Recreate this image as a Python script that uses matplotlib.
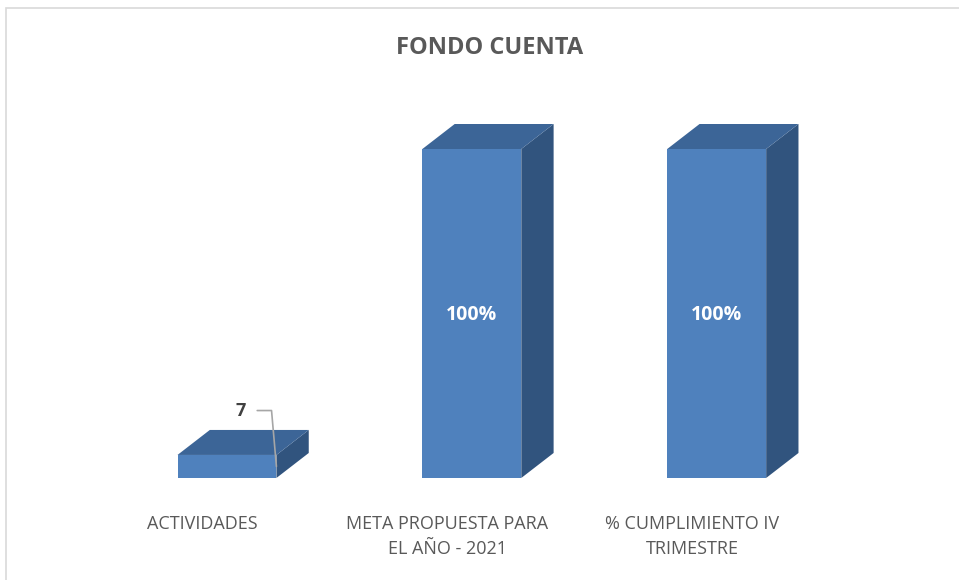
import numpy as np
import matplotlib.pyplot as plt
from matplotlib.patches import Polygon, Rectangle

categories = ['ACTIVIDADES', 'META PROPUESTA PARA\nEL AÑO - 2021', '% CUMPLIMIENTO IV\nTRIMESTRE']
values = [7, 100, 100]
value_labels = ['7', '100%', '100%']

front_color = '#4F81BD'
top_color = '#3C6597'
side_color = '#31547E'

fig = plt.figure(figsize=(9.59, 5.8), dpi=100)
plt.rcParams['font.family'] = ['Open Sans', 'DejaVu Sans']

# chart frame
fig.patches.append(Rectangle((6 / 959, -0.1), 1.1, 1 - 8 / 580 + 0.1, transform=fig.transFigure,
                             fill=False, edgecolor='#D9D9D9', lw=1.2))

ax = fig.add_axes([0.109, 0.1759, 0.766, 0.5672])
ax.set_xlim(-0.5, 2.5)
ax.set_ylim(0, 100)
ax.axis('off')

width = 0.404
dx = 0.132
dy = 7.6

for i, v in enumerate(values):
    x0 = i - width / 2
    x1 = i + width / 2
    front = Polygon([(x0, 0), (x1, 0), (x1, v), (x0, v)], closed=True,
                    facecolor=front_color, edgecolor='none', clip_on=False)
    top = Polygon([(x0, v), (x1, v), (x1 + dx, v + dy), (x0 + dx, v + dy)], closed=True,
                  facecolor=top_color, edgecolor='none', clip_on=False)
    side = Polygon([(x1, 0), (x1 + dx, dy), (x1 + dx, v + dy), (x1, v)], closed=True,
                   facecolor=side_color, edgecolor='none', clip_on=False)
    for p in (side, top, front):
        ax.add_patch(p)

    # category label
    ax.annotate(categories[i], xy=(i - 0.1, 0), xytext=(0, -27), textcoords='offset points',
                ha='center', va='top', fontsize=13, color='#595959', linespacing=1.5,
                annotation_clip=False)

    if v >= 50:
        ax.text(i, v * 0.495, value_labels[i], ha='center', va='center', fontsize=14,
                fontweight='bold', color='white')
    else:
        # small bar: label above with leader line
        ax.annotate(value_labels[i], xy=(x1, v * 0.5), xytext=(x1 - 0.145, v + 13.5),
                    ha='center', va='center', fontsize=13, fontweight='bold', color='#404040',
                    arrowprops=dict(arrowstyle='-', color='#A6A6A6', lw=1.2,
                                    connectionstyle='angle,angleA=0,angleB=95,rad=0',
                                    shrinkA=6, shrinkB=0),
                    annotation_clip=False)

fig.text(0.511, 0.917, 'FONDO CUENTA', ha='center', va='center', fontsize=17,
         fontweight='bold', color='#595959')

fig.savefig('out.png', dpi=100)
